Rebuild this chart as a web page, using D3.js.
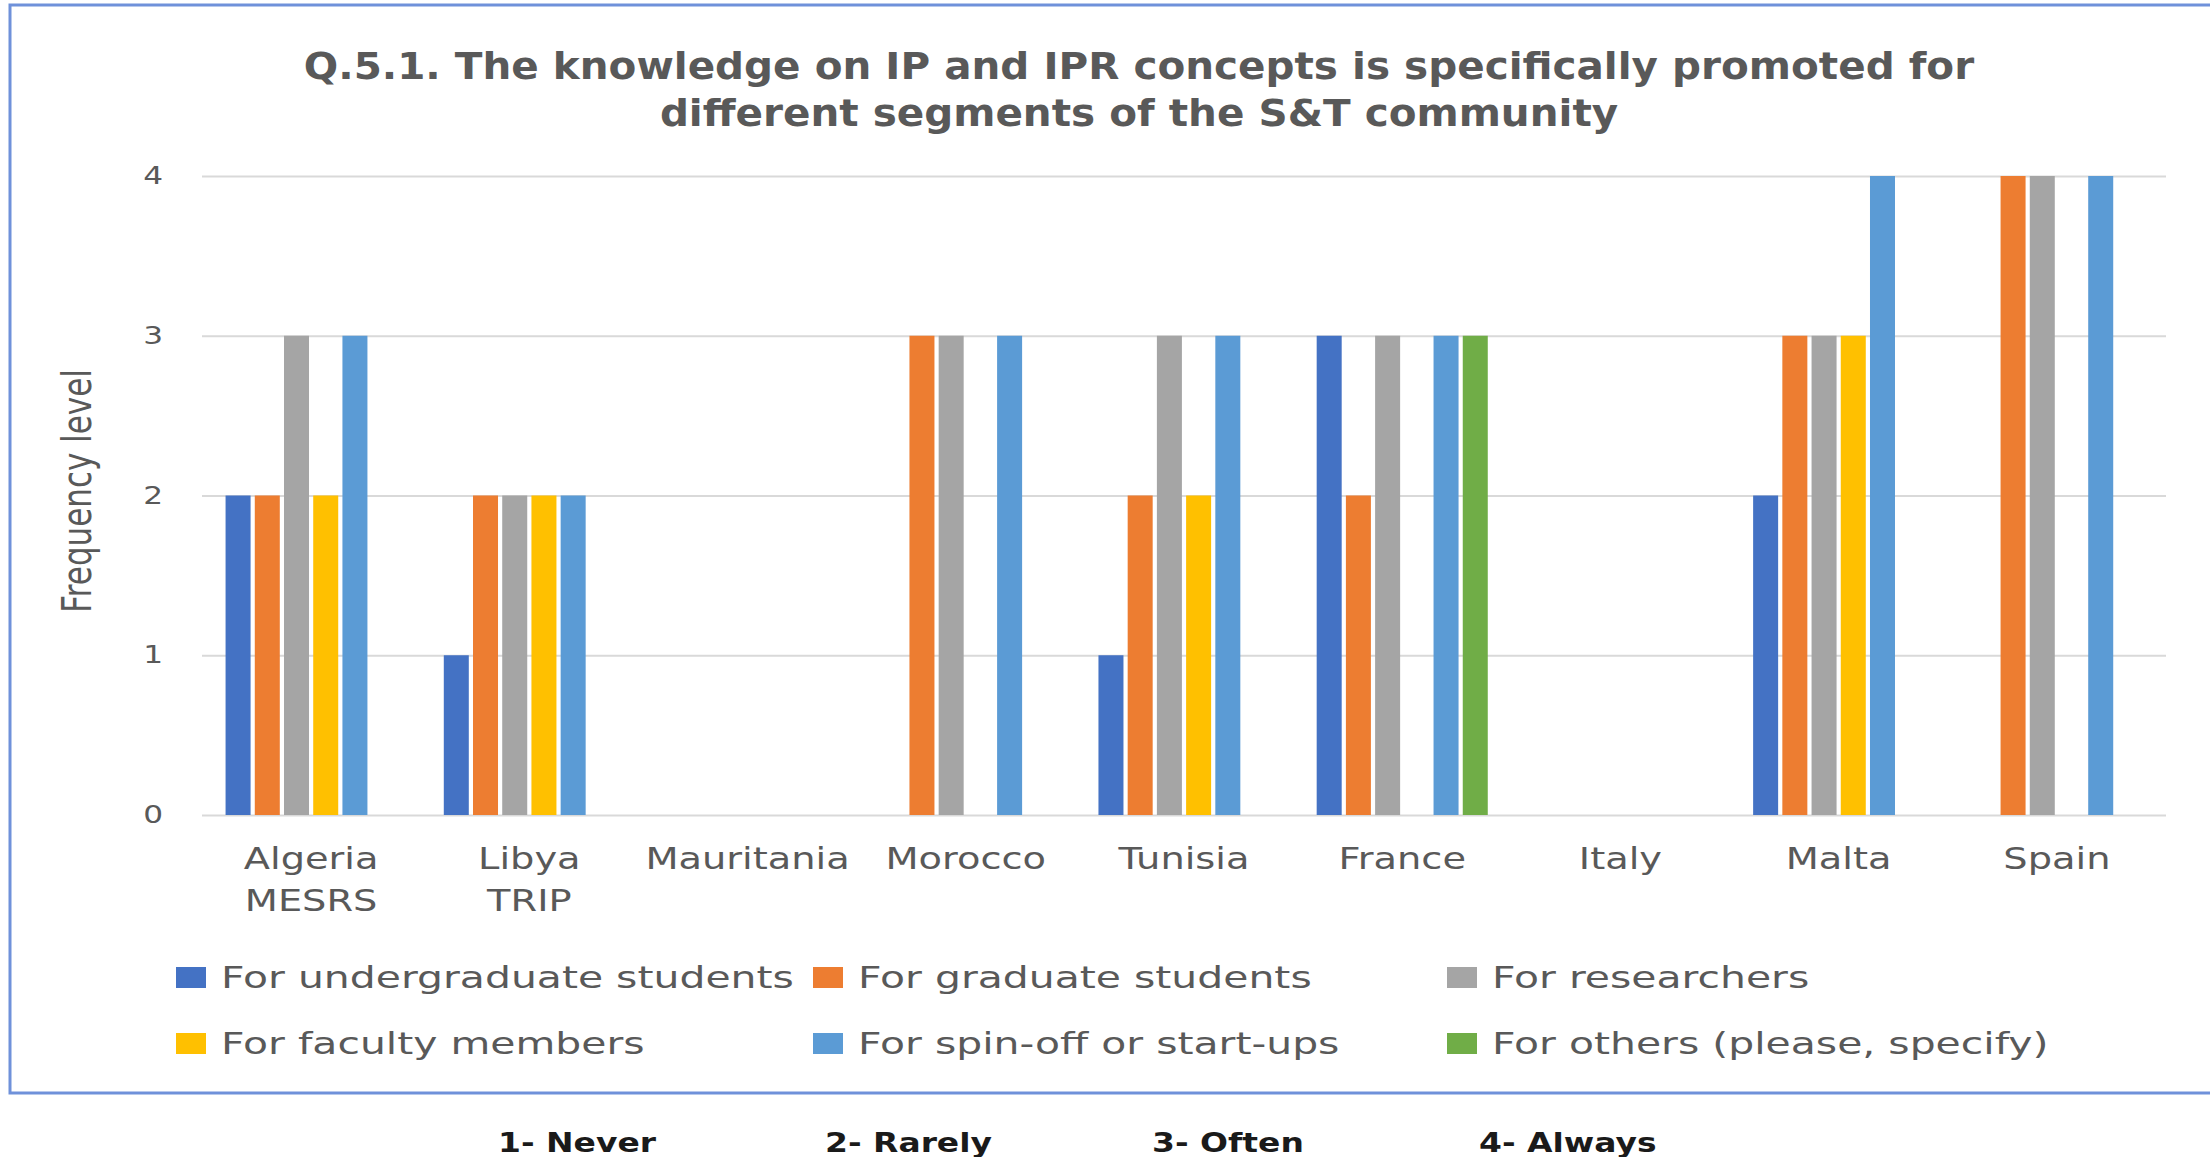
<!DOCTYPE html>
<html>
<head>
<meta charset="utf-8">
<script src="https://cdn.jsdelivr.net/npm/d3@7"></script>
<style>
  body { margin: 0; background: #fff; }
  svg { display: block; }
</style>
</head>
<body>
<svg id="chart" width="2210" height="1157"></svg>
<script>
// categories and series
var categories = ["Algeria\nMESRS", "Libya\nTRIP", "Mauritania", "Morocco", "Tunisia", "France", "Italy", "Malta", "Spain"]
var seriesNames = ["For undergraduate students", "For graduate students", "For researchers",
	"For faculty members", "For spin-off or start-ups", "For others (please, specify)"]
var seriesColors = ["#4472C4", "#ED7D31", "#A5A5A5", "#FFC000", "#5B9BD5", "#70AD47"]

var undergrad  = [2, 1, 0, 0, 1, 3, 0, 2, 0]
var graduate   = [2, 2, 0, 3, 2, 2, 0, 3, 4]
var research   = [3, 2, 0, 3, 3, 3, 0, 3, 4]
var faculty    = [2, 2, 0, 0, 2, 0, 0, 3, 0]
var spinoff    = [3, 2, 0, 3, 3, 3, 0, 4, 4]
var others     = [0, 0, 0, 0, 0, 3, 0, 0, 0]
var seriesValues = [undergrad, graduate, research, faculty, spinoff, others]

var yTicks = [0, 1, 2, 3, 4]
var scaleNotes = ["1- Never", "2- Rarely", "3- Often", "4- Always"]
var titleLines = ["Q.5.1. The knowledge on IP and IPR concepts is specifically promoted for",
	"different segments of the S&T community"]

const FONT = "'DejaVu Sans', Verdana, sans-serif"
const STRETCH = 1.3
const LEFT = 202, RIGHT = 2166, TOP = 176, BOTTOM = 815

var chart = d3.select("#chart")

// outer frame
chart.append("rect")
	.attr("x", 10).attr("y", 5)
	.attr("width", 2400).attr("height", 1088)
	.attr("fill", "none")
	.attr("stroke", "#6f91da")
	.attr("stroke-width", 3)

// stretched text helper (the source text is horizontally stretched)
function stext(parent, x, y, str, size, anchor, sx) {
	var g = parent.append("g").attr("transform", "translate(" + x + "," + y + ") scale(" + sx + ",1)")
	return g.append("text")
		.attr("font-family", FONT)
		.attr("font-size", size + "px")
		.attr("text-anchor", anchor)
		.text(str)
}

// title
titleLines.forEach((t, i) => {
	stext(chart, 1139, 79 + i * 47, t, 37.5, "middle", 1.08)
		.attr("font-weight", "bold")
		.attr("fill", "#595959")
})

var x0 = d3.scaleBand().domain(categories).range([LEFT, RIGHT]).paddingInner(0.216).paddingOuter(0.108)
var x1 = d3.scaleBand().domain(d3.range(seriesNames.length)).range([0, x0.bandwidth()]).paddingInner(0.144)
var y = d3.scaleLinear().domain([0, 4]).range([BOTTOM, TOP])

// gridlines + tick labels
var yAxis = chart.append("g")
	.attr("transform", "translate(" + LEFT + ",0)")
	.call(d3.axisLeft(y).tickValues(yTicks).tickFormat(d3.format("d")).tickSize(-(RIGHT - LEFT)).tickPadding(30))
yAxis.select(".domain").remove()
yAxis.selectAll(".tick line").attr("stroke", "#d9d9d9").attr("stroke-width", 2)
yAxis.selectAll(".tick text")
	.attr("font-family", FONT)
	.attr("font-size", "24px")
	.attr("fill", "#595959")
	.attr("transform", "scale(" + STRETCH + ",1)")

// bars
var groups = chart.append("g").selectAll("g")
	.data(categories)
	.join("g")
	.attr("transform", d => "translate(" + x0(d) + ",0)")

groups.selectAll("rect")
	.data((d, ci) => seriesValues.map((vals, si) => ({ s: si, v: vals[ci] })))
	.join("rect")
	.attr("x", d => x1(d.s))
	.attr("width", x1.bandwidth())
	.attr("y", d => y(d.v))
	.attr("height", d => y(0) - y(d.v))
	.attr("fill", d => seriesColors[d.s])

// category labels
categories.forEach(c => {
	var cx = x0(c) + x0.bandwidth() / 2
	c.split("\n").forEach((line, i) => {
		stext(chart, cx, 869 + i * 42, line, 29.5, "middle", STRETCH).attr("fill", "#595959")
	})
})

// y-axis title
chart.append("g")
	.attr("transform", "translate(91,491) rotate(-90) scale(1," + STRETCH + ")")
	.append("text")
	.attr("font-family", FONT)
	.attr("font-size", "31px")
	.attr("text-anchor", "middle")
	.attr("fill", "#595959")
	.text("Frequency level")

// legend
var legendCols = [176, 813, 1447]
seriesNames.forEach((name, i) => {
	var lx = legendCols[i % 3], ly = 967 + Math.floor(i / 3) * 66
	chart.append("rect")
		.attr("x", lx).attr("y", ly)
		.attr("width", 30).attr("height", 21)
		.attr("fill", seriesColors[i])
	stext(chart, lx + 45, ly + 21, name, 31, "start", 1.32).attr("fill", "#595959")
})

// scale notes under the frame
scaleNotes.forEach((t, i) => {
	stext(chart, 498 + i * 327, 1152, t, 27, "start", 1.22)
		.attr("font-weight", "bold")
		.attr("fill", "#1a1a1a")
})
</script>
</body>
</html>
